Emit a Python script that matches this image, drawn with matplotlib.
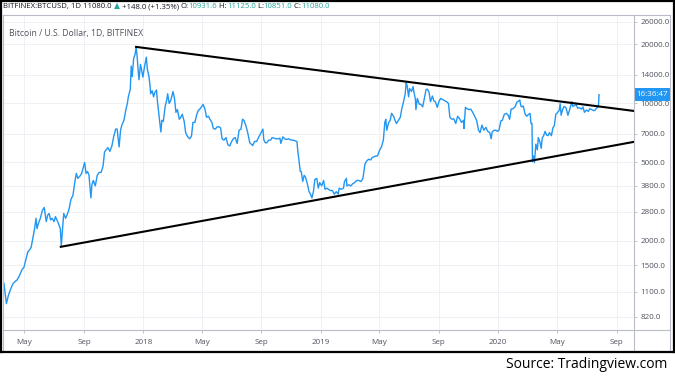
import matplotlib
matplotlib.use('Agg')
import matplotlib.pyplot as plt
import matplotlib.transforms as mtransforms
from matplotlib.lines import Line2D
import pandas as pd

plt.rcParams['font.family'] = ['Open Sans', 'DejaVu Sans']

# daily closes (BITFINEX BTCUSD), roughly every few days
dates_2017 = ['2017-03-20', '2017-03-25', '2017-03-29', '2017-04-02', '2017-04-07', '2017-04-12', '2017-04-16',
              '2017-04-21', '2017-04-26', '2017-04-30', '2017-05-04', '2017-05-08', '2017-05-12', '2017-05-15',
              '2017-05-19', '2017-05-22', '2017-05-25', '2017-05-27', '2017-05-30', '2017-06-03', '2017-06-07',
              '2017-06-11', '2017-06-13', '2017-06-15', '2017-06-18', '2017-06-21', '2017-06-24', '2017-06-27',
              '2017-07-01', '2017-07-04', '2017-07-07', '2017-07-10', '2017-07-14', '2017-07-16', '2017-07-19',
              '2017-07-21', '2017-07-25', '2017-07-29', '2017-08-01', '2017-08-05', '2017-08-09', '2017-08-13',
              '2017-08-16', '2017-08-19', '2017-08-23', '2017-08-27', '2017-08-31', '2017-09-02', '2017-09-05',
              '2017-09-08', '2017-09-11', '2017-09-14', '2017-09-15', '2017-09-17', '2017-09-20', '2017-09-24',
              '2017-09-28', '2017-10-02', '2017-10-06', '2017-10-10', '2017-10-13', '2017-10-16', '2017-10-20',
              '2017-10-24', '2017-10-28', '2017-11-01', '2017-11-05', '2017-11-08', '2017-11-12', '2017-11-15',
              '2017-11-18', '2017-11-22', '2017-11-26', '2017-11-29', '2017-12-01', '2017-12-05', '2017-12-07',
              '2017-12-09', '2017-12-12', '2017-12-15', '2017-12-17', '2017-12-19', '2017-12-21', '2017-12-23',
              '2017-12-26', '2017-12-29', '2017-12-31']
close_2017 = [1210, 955, 1050, 1120, 1200, 1240, 1260,
              1330, 1420, 1460, 1600, 1750, 1800, 1850,
              2100, 2300, 2600, 2300, 2450, 2600, 2850,
              2950, 2700, 2500, 2700, 2750, 2550, 2600,
              2500, 2650, 2550, 2450, 2300, 1880, 2350,
              2750, 2600, 2750, 2900, 3250, 3400, 4000,
              4400, 4150, 4250, 4400, 4800, 5000, 4400,
              4500, 4300, 3500, 3300, 3850, 4050, 3800,
              4300, 4450, 4450, 4800, 5650, 5800, 5950,
              5700, 6050, 6800, 7400, 7400, 6000, 7300,
              7800, 8200, 9300, 10000, 10800, 11800, 15500,
              13700, 17000, 17800, 19400, 17500, 15000, 13200,
              15800, 14500, 13600]

dates_2018 = ['2018-01-03', '2018-01-07', '2018-01-09', '2018-01-12', '2018-01-14', '2018-01-16', '2018-01-19',
              '2018-01-22', '2018-01-24', '2018-01-28', '2018-01-30', '2018-02-02', '2018-02-06', '2018-02-08',
              '2018-02-11', '2018-02-15', '2018-02-18', '2018-02-20', '2018-02-23', '2018-02-26', '2018-03-03',
              '2018-03-06', '2018-03-09', '2018-03-12', '2018-03-16', '2018-03-19', '2018-03-22', '2018-03-26',
              '2018-03-29', '2018-04-01', '2018-04-06', '2018-04-10', '2018-04-13', '2018-04-17', '2018-04-21',
              '2018-04-24', '2018-04-28', '2018-05-04', '2018-05-08', '2018-05-11', '2018-05-15', '2018-05-18',
              '2018-05-22', '2018-05-25', '2018-05-29', '2018-06-02', '2018-06-06', '2018-06-09', '2018-06-12',
              '2018-06-16', '2018-06-20', '2018-06-24', '2018-06-28', '2018-07-01', '2018-07-05', '2018-07-09',
              '2018-07-13', '2018-07-17', '2018-07-21', '2018-07-24', '2018-07-27', '2018-07-31', '2018-08-04',
              '2018-08-08', '2018-08-11', '2018-08-14', '2018-08-18', '2018-08-22', '2018-08-26', '2018-08-30',
              '2018-09-04', '2018-09-06', '2018-09-09', '2018-09-12', '2018-09-16', '2018-09-20', '2018-09-23',
              '2018-09-27', '2018-10-01', '2018-10-05', '2018-10-09', '2018-10-11', '2018-10-15', '2018-10-19',
              '2018-10-23', '2018-10-27', '2018-11-01', '2018-11-05', '2018-11-09', '2018-11-13', '2018-11-15',
              '2018-11-19', '2018-11-20', '2018-11-22', '2018-11-25', '2018-11-28', '2018-12-01', '2018-12-05',
              '2018-12-08', '2018-12-11', '2018-12-14', '2018-12-17', '2018-12-20', '2018-12-24', '2018-12-27',
              '2018-12-30']
close_2018 = [15200, 17200, 15000, 13900, 12750, 11200, 11600,
              10800, 11300, 11700, 10200, 8800, 7150, 8200,
              8100, 9700, 10400, 11200, 10000, 10300, 11490,
              10600, 9000, 9300, 8300, 8500, 8800, 8100,
              7100, 6830, 6600, 6800, 8000, 8000, 8800,
              9200, 9400, 9880, 9300, 8500, 8600, 8300,
              8000, 7450, 7400, 7600, 7600, 7500, 6600,
              6500, 6700, 6150, 6070, 6350, 6600, 6700,
              6250, 7300, 7400, 8300, 8200, 7700, 7050,
              6300, 6200, 6100, 6400, 6400, 6700, 7000,
              7400, 6500, 6300, 6300, 6500, 6500, 6700,
              6650, 6600, 6600, 6650, 6250, 6750, 6600,
              6550, 6600, 6500, 6500, 6450, 6400, 5700,
              4700, 4500, 4500, 4000, 4300, 4200, 3850,
              3550, 3450, 3300, 3550, 4100, 4150, 3700,
              3950]

dates_2019 = ['2019-01-03', '2019-01-07', '2019-01-10', '2019-01-14', '2019-01-17', '2019-01-21', '2019-01-25',
              '2019-01-29', '2019-02-02', '2019-02-06', '2019-02-08', '2019-02-12', '2019-02-17', '2019-02-19',
              '2019-02-23', '2019-02-24', '2019-02-28', '2019-03-04', '2019-03-08', '2019-03-12', '2019-03-16',
              '2019-03-20', '2019-03-25', '2019-03-29', '2019-04-02', '2019-04-06', '2019-04-10', '2019-04-14',
              '2019-04-17', '2019-04-21', '2019-04-25', '2019-04-28', '2019-05-02', '2019-05-06', '2019-05-10',
              '2019-05-13', '2019-05-15', '2019-05-17', '2019-05-21', '2019-05-24', '2019-05-27', '2019-05-31',
              '2019-06-03', '2019-06-06', '2019-06-10', '2019-06-14', '2019-06-17', '2019-06-21', '2019-06-24',
              '2019-06-26', '2019-06-28', '2019-07-01', '2019-07-03', '2019-07-07', '2019-07-10', '2019-07-12',
              '2019-07-15', '2019-07-16', '2019-07-19', '2019-07-23', '2019-07-26', '2019-07-30', '2019-08-02',
              '2019-08-06', '2019-08-09', '2019-08-12', '2019-08-15', '2019-08-19', '2019-08-22', '2019-08-25',
              '2019-08-29', '2019-09-02', '2019-09-05', '2019-09-09', '2019-09-13', '2019-09-17', '2019-09-21',
              '2019-09-24', '2019-09-28', '2019-10-02', '2019-10-06', '2019-10-10', '2019-10-14', '2019-10-18',
              '2019-10-22', '2019-10-23', '2019-10-26', '2019-10-29', '2019-11-02', '2019-11-06', '2019-11-10',
              '2019-11-14', '2019-11-18', '2019-11-22', '2019-11-25', '2019-11-29', '2019-12-03', '2019-12-07',
              '2019-12-11', '2019-12-15', '2019-12-18', '2019-12-20', '2019-12-24', '2019-12-28', '2019-12-31']
close_2019 = [3800, 4050, 3650, 3700, 3650, 3600, 3600,
              3450, 3550, 3450, 3700, 3650, 3700, 4000,
              4150, 3800, 3850, 3800, 3900, 3950, 4050,
              4050, 4000, 4150, 4900, 5100, 5200, 5150,
              5300, 5350, 5400, 5400, 5750, 6000, 6500,
              8000, 8300, 7300, 8000, 8200, 8900, 8600,
              8200, 7900, 8200, 8500, 9400, 10300, 11200,
              12750, 12300, 10800, 11900, 11500, 12170, 11400,
              10500, 9300, 10600, 9900, 9900, 9600, 10500,
              11780, 11800, 11400, 10200, 10900, 10300, 10200,
              9550, 10300, 10600, 10470, 10350, 10200, 10000,
              8500, 8300, 8350, 7900, 8600, 8350, 8000,
              8200, 7450, 9550, 9400, 9300, 9350, 9000,
              8600, 8200, 7300, 7100, 7750, 7300, 7550,
              7200, 7100, 6600, 7150, 7300, 7300, 7200]

dates_2020 = ['2020-01-03', '2020-01-07', '2020-01-10', '2020-01-14', '2020-01-18', '2020-01-22', '2020-01-25',
              '2020-01-28', '2020-02-01', '2020-02-05', '2020-02-09', '2020-02-13', '2020-02-15', '2020-02-17',
              '2020-02-19', '2020-02-22', '2020-02-26', '2020-02-29', '2020-03-03', '2020-03-07', '2020-03-09',
              '2020-03-11', '2020-03-12', '2020-03-14', '2020-03-16', '2020-03-19', '2020-03-22', '2020-03-24',
              '2020-03-27', '2020-03-30', '2020-04-01', '2020-04-04', '2020-04-07', '2020-04-10', '2020-04-13',
              '2020-04-16', '2020-04-20', '2020-04-23', '2020-04-26', '2020-04-29', '2020-05-02', '2020-05-06',
              '2020-05-08', '2020-05-10', '2020-05-13', '2020-05-16', '2020-05-20', '2020-05-24', '2020-05-27',
              '2020-06-01', '2020-06-03', '2020-06-07', '2020-06-10', '2020-06-13', '2020-06-17', '2020-06-21',
              '2020-06-24', '2020-06-27', '2020-07-01', '2020-07-05', '2020-07-08', '2020-07-12', '2020-07-15',
              '2020-07-18', '2020-07-21', '2020-07-24', '2020-07-26', '2020-07-27']
close_2020 = [7300, 8150, 8200, 8800, 8900, 8700, 8300,
              9350, 9400, 9600, 10150, 10300, 10400, 9700,
              9600, 9700, 8800, 8600, 8750, 8900, 7900,
              7900, 5050, 5400, 5000, 6200, 5800, 6700,
              6400, 5900, 6650, 6850, 7200, 6900, 6850,
              7100, 6850, 7500, 7700, 8800, 8950, 9200,
              9980, 8700, 9300, 9650, 9500, 8700, 9200,
              10200, 9650, 9750, 9900, 9450, 9500, 9350,
              9600, 9000, 9250, 9100, 9400, 9300, 9200,
              9200, 9400, 9550, 9900, 11080]

# hand drawn trend lines (endpoints)
upper_dates = ['2017-12-17', '2020-10-07']
upper_vals = [19400, 9150]
lower_dates = ['2017-07-15', '2020-10-07']
lower_vals = [1860, 6370]

price_ticks = [820, 1100, 1500, 2000, 2800, 3800, 5000, 7000, 10000, 14000, 20000, 26000]
time_ticks = ['2017-05-01', '2017-09-01', '2018-01-01', '2018-05-01', '2018-09-01', '2019-01-01',
              '2019-05-01', '2019-09-01', '2020-01-01', '2020-05-01', '2020-09-01']
time_labels = ['May', 'Sep', '2018', 'May', 'Sep', '2019', 'May', 'Sep', '2020', 'May', 'Sep']

dates = pd.to_datetime(dates_2017 + dates_2018 + dates_2019 + dates_2020)
close = close_2017 + close_2018 + close_2019 + close_2020

W, H = 675, 376
fig = plt.figure(figsize=(6.75, 3.76), dpi=100)
fig.patch.set_facecolor('white')
ax = fig.add_axes([3 / W, 1 - 330 / H, 631 / W, 315 / H])

grid_col = '#eef0f5'
axis_col = '#b8bcc6'
label_col = '#50535e'

ax.plot(dates, close, color='#2196f3', linewidth=1.0, zorder=3)
ax.plot(pd.to_datetime(upper_dates), upper_vals, color='black', linewidth=1.5, zorder=4)
ax.plot(pd.to_datetime(lower_dates), lower_vals, color='black', linewidth=1.5, zorder=4)

ax.set_yscale('log')
ax.set_ylim(701, 28200)
ax.set_xlim(pd.Timestamp('2017-03-18'), pd.Timestamp('2020-10-07'))

ax.yaxis.tick_right()
ax.set_yticks(price_ticks)
ax.set_yticklabels([f'{v:.1f}' for v in price_ticks])
ax.yaxis.set_minor_locator(matplotlib.ticker.NullLocator())
ax.set_xticks(pd.to_datetime(time_ticks))
ax.set_xticklabels(time_labels)
ax.tick_params(axis='both', colors=axis_col, labelcolor=label_col, labelsize=5.8, length=2.5, width=0.6, pad=2)
ax.tick_params(axis='x', pad=4)
ax.grid(True, color=grid_col, linewidth=0.7)
for s in ax.spines.values():
    s.set_visible(False)

# countdown label on the price axis
trans = mtransforms.blended_transform_factory(ax.transAxes, ax.transData)
ax.text(1.004, 11080, '16:36:47', transform=trans, color='white', fontsize=5.8, va='center', ha='left',
        bbox=dict(boxstyle='square,pad=0.35', fc='#2196f3', ec='none'), zorder=6, clip_on=False)

# panel frame lines (figure pixel coordinates)
def fline(x0, y0, x1, y1, color, lw):
    fig.add_artist(Line2D([x0 / W, x1 / W], [1 - y0 / H, 1 - y1 / H], color=color, linewidth=lw,
                          transform=fig.transFigure))

fline(3, 15, 670, 15, axis_col, 0.8)
fline(3, 15, 3, 351, axis_col, 0.8)
fline(670, 15, 670, 351, axis_col, 0.8)
fline(634, 15, 634, 351, axis_col, 0.8)
fline(3, 330, 670, 330, axis_col, 0.8)
# outer black frame
fline(0.7, 0.5, 674.3, 0.5, 'black', 1.6)
fline(0.7, 0, 0.7, 352, 'black', 1.6)
fline(674.3, 0, 674.3, 352, 'black', 1.6)
fline(0, 352, 675, 352, 'black', 1.6)

ax.text(0.01, 0.955, 'Bitcoin / U.S. Dollar, 1D, BITFINEX', transform=ax.transAxes, fontsize=6.2,
        color=label_col, va='top', ha='left')

# header line with coloured values
dark = '#131722'
teal = '#26a69a'
header = [('BITFINEX:BTCUSD, 1D', dark), (' 11080.0 ', dark), ('▲', teal), (' +148.0 (+1.35%) ', dark),
          ('O:', dark), ('10931.6', teal), (' H:', dark), ('11125.0', teal), (' L:', dark),
          ('10851.0', teal), (' C:', dark), ('11080.0', teal)]
renderer = fig.canvas.get_renderer()
x = 3 / W
for txt, col in header:
    t = fig.text(x, 1 - 6.5 / H, txt, color=col, fontsize=5.6, va='center', ha='left')
    bb = t.get_window_extent(renderer)
    x = bb.x1 / W

fig.text(667 / W, 1 - 365 / H, 'Source: Tradingview.com', fontsize=10, color='black', ha='right', va='center')

plt.savefig('out.png', dpi=100, facecolor='white')
